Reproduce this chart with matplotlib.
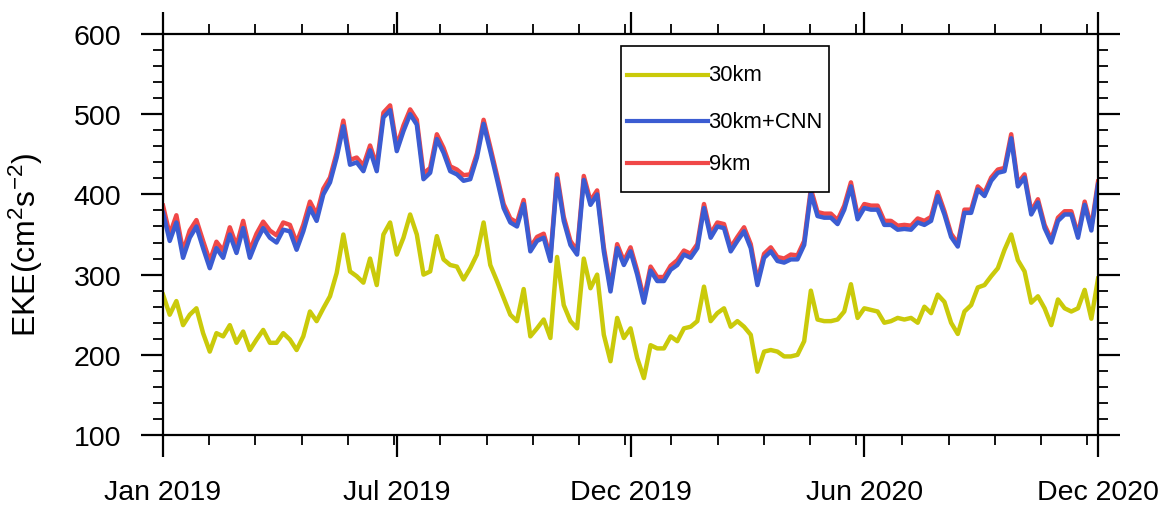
import numpy as np
import matplotlib
matplotlib.use('Agg')
import matplotlib.pyplot as plt
from matplotlib.lines import Line2D
from matplotlib.patches import Rectangle
from matplotlib.ticker import MultipleLocator, FixedLocator

plt.rcParams['font.family'] = ['Liberation Sans', 'DejaVu Sans']
plt.rcParams['mathtext.fontset'] = 'custom'
plt.rcParams['mathtext.rm'] = 'Liberation Sans'
plt.rcParams['mathtext.it'] = 'Liberation Sans:italic'

# day index since 1 Jan 2019, sampled every 5 days
days = list(range(0, 701, 5))

eke_30km = [275, 250, 267, 237, 250, 258, 227, 204, 227, 223, 237, 215, 229, 206, 219, 231, 215, 215, 227, 219, 206, 223, 254, 242,
            258, 273, 302, 350, 304, 298, 290, 320, 287, 350, 365, 325, 346, 375, 350, 300, 304, 348, 319, 312, 310, 294, 308,
            325, 365, 312, 292, 271, 250, 242, 282, 223, 233, 244, 221, 322, 262, 242, 233, 320, 283, 300, 225, 192, 246, 221,
            233, 196, 171, 212, 208, 208, 223, 217, 233, 235, 242, 285, 242, 252, 258, 235, 242, 235, 225, 179, 204, 206, 204, 198,
            198, 200, 217, 280, 244, 242, 242, 244, 254, 288, 246, 258, 256, 254, 240, 242, 246, 244, 246, 240, 260, 252, 275,
            266, 240, 226, 254, 262, 284, 287, 298, 308, 331, 350, 318, 304, 265, 273, 258, 237, 269, 258, 254, 258, 281, 245, 295]

eke_cnn = [377, 342, 365, 321, 346, 360, 333, 308, 333, 321, 350, 327, 358, 321, 342, 358, 346, 340, 356, 354, 331, 354, 383, 367,
           400, 415, 446, 485, 437, 440, 429, 455, 429, 496, 505, 454, 479, 500, 487, 419, 427, 469, 452, 429, 425, 417, 419,
           446, 488, 454, 419, 383, 365, 360, 388, 329, 342, 346, 317, 420, 367, 337, 325, 418, 387, 400, 329, 279, 333, 312,
           329, 300, 265, 305, 292, 292, 306, 312, 325, 321, 333, 383, 346, 360, 358, 329, 342, 354, 333, 287, 321, 329, 317, 315,
           319, 319, 337, 402, 373, 371, 371, 363, 381, 410, 369, 383, 381, 381, 362, 362, 356, 357, 356, 365, 362, 367, 398,
           375, 347, 335, 377, 377, 406, 398, 417, 427, 429, 470, 410, 421, 375, 390, 358, 340, 367, 375, 375, 346, 387, 355, 412]

eke_9km = [386, 350, 374, 329, 355, 368, 342, 317, 341, 330, 359, 336, 367, 330, 351, 366, 355, 349, 365, 362, 340, 362, 391, 375,
           407, 421, 452, 492, 443, 446, 436, 461, 436, 502, 511, 460, 486, 506, 493, 426, 433, 475, 458, 435, 431, 424, 425,
           451, 493, 459, 424, 388, 370, 365, 393, 334, 347, 351, 322, 425, 372, 342, 330, 423, 392, 405, 334, 284, 338, 317,
           334, 305, 270, 310, 297, 297, 311, 318, 330, 326, 338, 388, 351, 365, 363, 334, 347, 359, 338, 292, 326, 334, 322, 320,
           325, 324, 342, 407, 378, 376, 376, 368, 386, 415, 374, 388, 386, 386, 367, 367, 361, 362, 361, 370, 367, 372, 403,
           379, 351, 339, 381, 381, 410, 402, 421, 431, 433, 475, 414, 425, 379, 394, 362, 344, 371, 379, 379, 350, 391, 359, 416]

tick_days = [0, 175, 350, 525, 700]
tick_labels = ['Jan 2019', 'Jul 2019', 'Dec 2019', 'Jun 2020', 'Dec 2020']

series_names = ['30km', '30km+CNN', '9km']
series_colors = ['#CACA0A', '#3B5CD2', '#F04848']

fig = plt.figure(figsize=(11.67, 5.06), dpi=100)
ax = fig.add_axes([0.1397, 0.1383, 0.8012, 0.7925])

lw = 3.2
ax.plot(days, eke_30km, color=series_colors[0], lw=lw, solid_joinstyle='round')
ax.plot(days, eke_9km, color=series_colors[2], lw=lw, solid_joinstyle='round')
ax.plot(days, eke_cnn, color=series_colors[1], lw=lw, solid_joinstyle='round')

ax.set_xlim(0, 700)
ax.set_ylim(100, 600)
ax.set_xticks(tick_days)
ax.set_xticklabels(tick_labels)
ax.xaxis.set_minor_locator(FixedLocator(np.arange(0, 701, 34.6)))
ax.yaxis.set_major_locator(MultipleLocator(100))
ax.yaxis.set_minor_locator(MultipleLocator(20))

for s in ax.spines.values():
    s.set_linewidth(1.6)
ax.tick_params(which='both', direction='out', top=True, right=True, width=1.6)
ax.tick_params(which='major', length=16, labelsize=20.5)
ax.tick_params(which='minor', length=7.5, width=1.3)
ax.tick_params(axis='x', which='major', pad=16)
ax.tick_params(axis='y', which='major', pad=14)

ax.set_ylabel(r'EKE(cm$^{2}$s$^{-2}$)', fontsize=23)
ax.yaxis.set_label_coords(-0.126, 0.476)

# legend box drawn by hand in axes fraction coordinates
ax.add_patch(Rectangle((0.4898, 0.606), 0.2225, 0.364, transform=ax.transAxes,
                       facecolor='white', edgecolor='black', lw=1.2, zorder=5))
for name, color, yy in zip(series_names, series_colors, [0.8978, 0.7830, 0.6783]):
    ax.add_line(Line2D([0.4963, 0.5829], [yy, yy], transform=ax.transAxes,
                       color=color, lw=3.0, zorder=6))
    ax.text(0.5835, yy, name, transform=ax.transAxes, fontsize=15.8,
            va='center', ha='left', zorder=6)

fig.savefig('out.png', dpi=100)
